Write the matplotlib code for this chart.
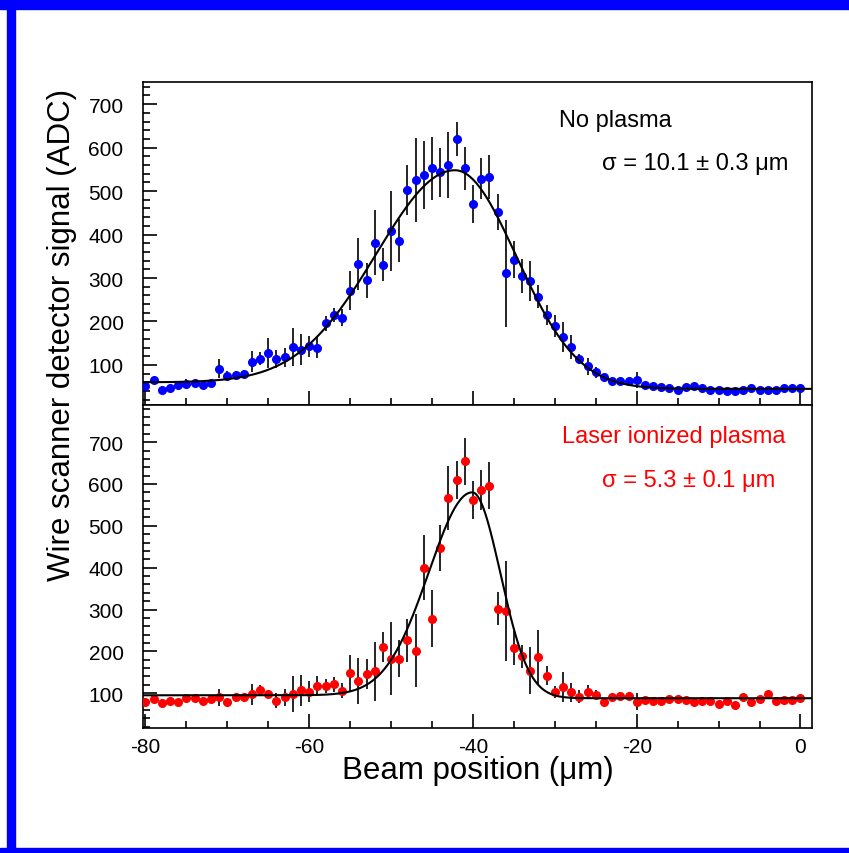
import numpy as np
import matplotlib
matplotlib.use("Agg")
import matplotlib.pyplot as plt
from matplotlib.patches import Rectangle
from matplotlib.ticker import MultipleLocator

plt.rcParams['font.family'] = ['Liberation Sans', 'DejaVu Sans']
plt.rcParams['axes.unicode_minus'] = False

# beam positions (um), one point per micron
pos = np.arange(-80, 1, 1)

# no plasma scan
noplasma_adc = [51, 66, 43, 46, 54, 57, 59, 54, 59, 91,
                74, 76, 80, 107, 114, 128, 114, 118, 141, 135,
                143, 140, 196, 215, 209, 271, 332, 295, 381, 331,
                409, 386, 503, 526, 537, 552, 543, 559, 620, 552,
                470, 528, 533, 452, 311, 342, 305, 294, 257, 215,
                190, 164, 141, 114, 97, 83, 72, 62, 64, 64,
                66, 54, 51, 49, 46, 43, 49, 51, 46, 43,
                43, 41, 41, 43, 46, 43, 43, 43, 46, 46, 46]
noplasma_err = [10, 5, 5, 5, 8, 10, 8, 5, 5, 22,
                11, 10, 8, 24, 15, 34, 20, 22, 44, 36,
                24, 25, 17, 17, 20, 45, 59, 40, 75, 39,
                92, 50, 57, 96, 79, 73, 57, 76, 39, 50,
                44, 47, 51, 42, 123, 43, 39, 46, 27, 22,
                25, 34, 27, 11, 19, 12, 8, 6, 5, 5,
                18, 4, 4, 4, 4, 4, 4, 4, 4, 4,
                4, 4, 4, 4, 4, 4, 4, 4, 4, 4, 4]

# laser ionized plasma scan
plasma_adc = [80, 86, 76, 82, 79, 88, 88, 82, 86, 90,
              80, 90, 90, 97, 107, 98, 82, 90, 98, 107,
              104, 118, 118, 121, 106, 148, 130, 146, 152, 210,
              182, 182, 226, 202, 400, 278, 446, 566, 610, 654,
              562, 586, 596, 302, 296, 208, 188, 154, 186, 142,
              102, 114, 102, 92, 102, 96, 80, 90, 94, 94,
              80, 84, 82, 82, 86, 86, 84, 80, 82, 82,
              74, 82, 72, 92, 80, 86, 98, 82, 84, 84, 88]
plasma_err = [8, 8, 8, 8, 8, 8, 8, 8, 8, 20,
              8, 10, 10, 25, 13, 10, 18, 21, 44, 37,
              24, 23, 17, 17, 18, 43, 55, 36, 70, 36,
              87, 44, 51, 88, 77, 68, 55, 76, 46, 56,
              46, 48, 56, 39, 120, 40, 28, 57, 65, 23,
              14, 36, 22, 16, 17, 12, 8, 8, 8, 8,
              20, 6, 6, 6, 6, 6, 6, 6, 6, 6,
              6, 6, 6, 6, 6, 6, 6, 6, 6, 6, 6]

# fit parameters: mean, peak, sigma left/right, baseline left/right
fit_noplasma = (-42.2, 548, 9.6, 7.5, 60, 45)
fit_plasma = (-40.1, 580, 5.3, 3.45, 95, 88)


def fitcurve(x, p):
    mu, peak, sl, sr, bl, br = p
    left = bl + (peak - bl) * np.exp(-(x - mu) ** 2 / (2 * sl ** 2))
    right = br + (peak - br) * np.exp(-(x - mu) ** 2 / (2 * sr ** 2))
    return np.where(x < mu, left, right)


W, H = 849, 854
fig = plt.figure(figsize=(W / 100, H / 100), dpi=100)

# blue frame
fig.patches.append(Rectangle((0, 1 - 10 / H), 1, 10 / H, transform=fig.transFigure, color='#0000ff', zorder=0))
fig.patches.append(Rectangle((7 / W, 0), 8 / W, 1, transform=fig.transFigure, color='#0000ff', zorder=0))
fig.patches.append(Rectangle((0, 0), 1, 5 / H, transform=fig.transFigure, color='#0000ff', zorder=0))

left = 143 / W
width = 668.5 / W
ax1 = fig.add_axes([left, 1 - 405.5 / H, width, 322.5 / H])
ax2 = fig.add_axes([left, 1 - 728.5 / H, width, 323 / H])

xx = np.linspace(-80.3, 1.35, 800)

panels = [(ax1, noplasma_adc, noplasma_err, fit_noplasma, '#0000ff', (9, 751)),
          (ax2, plasma_adc, plasma_err, fit_plasma, '#ff0000', (18, 790))]
for ax, vals, errs, fp, col, ylim in panels:
    ax.errorbar(pos, vals, yerr=errs, fmt='o', color=col, ms=5.5, mec=col,
                ecolor='black', elinewidth=1.2, capsize=0, zorder=3)
    ax.plot(xx, fitcurve(xx, fp), color='black', lw=1.5, zorder=4)
    ax.set_xlim(-80.3, 1.35)
    ax.set_ylim(*ylim)
    ax.xaxis.set_major_locator(MultipleLocator(20))
    ax.xaxis.set_minor_locator(MultipleLocator(5))
    ax.yaxis.set_major_locator(MultipleLocator(100))
    ax.yaxis.set_minor_locator(MultipleLocator(20))
    ax.set_yticks(range(100, 701, 100))
    ax.tick_params(which='both', direction='in', top=False, right=False, width=1.2)
    ax.tick_params(which='major', length=10)
    ax.tick_params(which='minor', length=5)
    ax.tick_params(axis='y', labelsize=15, pad=14)
    ax.tick_params(axis='x', labelsize=15, pad=7)
    for s in ax.spines.values():
        s.set_linewidth(1.2)

ax1.tick_params(axis='x', labelbottom=False)

ax1.text(0.706, 0.8636, 'No plasma', transform=ax1.transAxes, ha='center',
         va='baseline', fontsize=17)
ax1.text(0.8257, 0.730, 'σ = 10.1 ± 0.3 μm', transform=ax1.transAxes, ha='center',
         va='baseline', fontsize=17)
ax2.text(0.794, 0.883, 'Laser ionized plasma', transform=ax2.transAxes, ha='center',
         va='baseline', fontsize=17, color='#ff0000')
ax2.text(0.8157, 0.749, 'σ = 5.3 ± 0.1 μm', transform=ax2.transAxes, ha='center',
         va='baseline', fontsize=17, color='#ff0000')

fig.text(62 / W, 1 - 334.5 / H, 'Wire scanner detector signal (ADC)', rotation=90,
         ha='center', va='center', fontsize=22.5)
fig.text(478 / W, 1 - 771 / H, 'Beam position (μm)', ha='center', va='center',
         fontsize=22.5)

fig.savefig('out.png', dpi=100)
